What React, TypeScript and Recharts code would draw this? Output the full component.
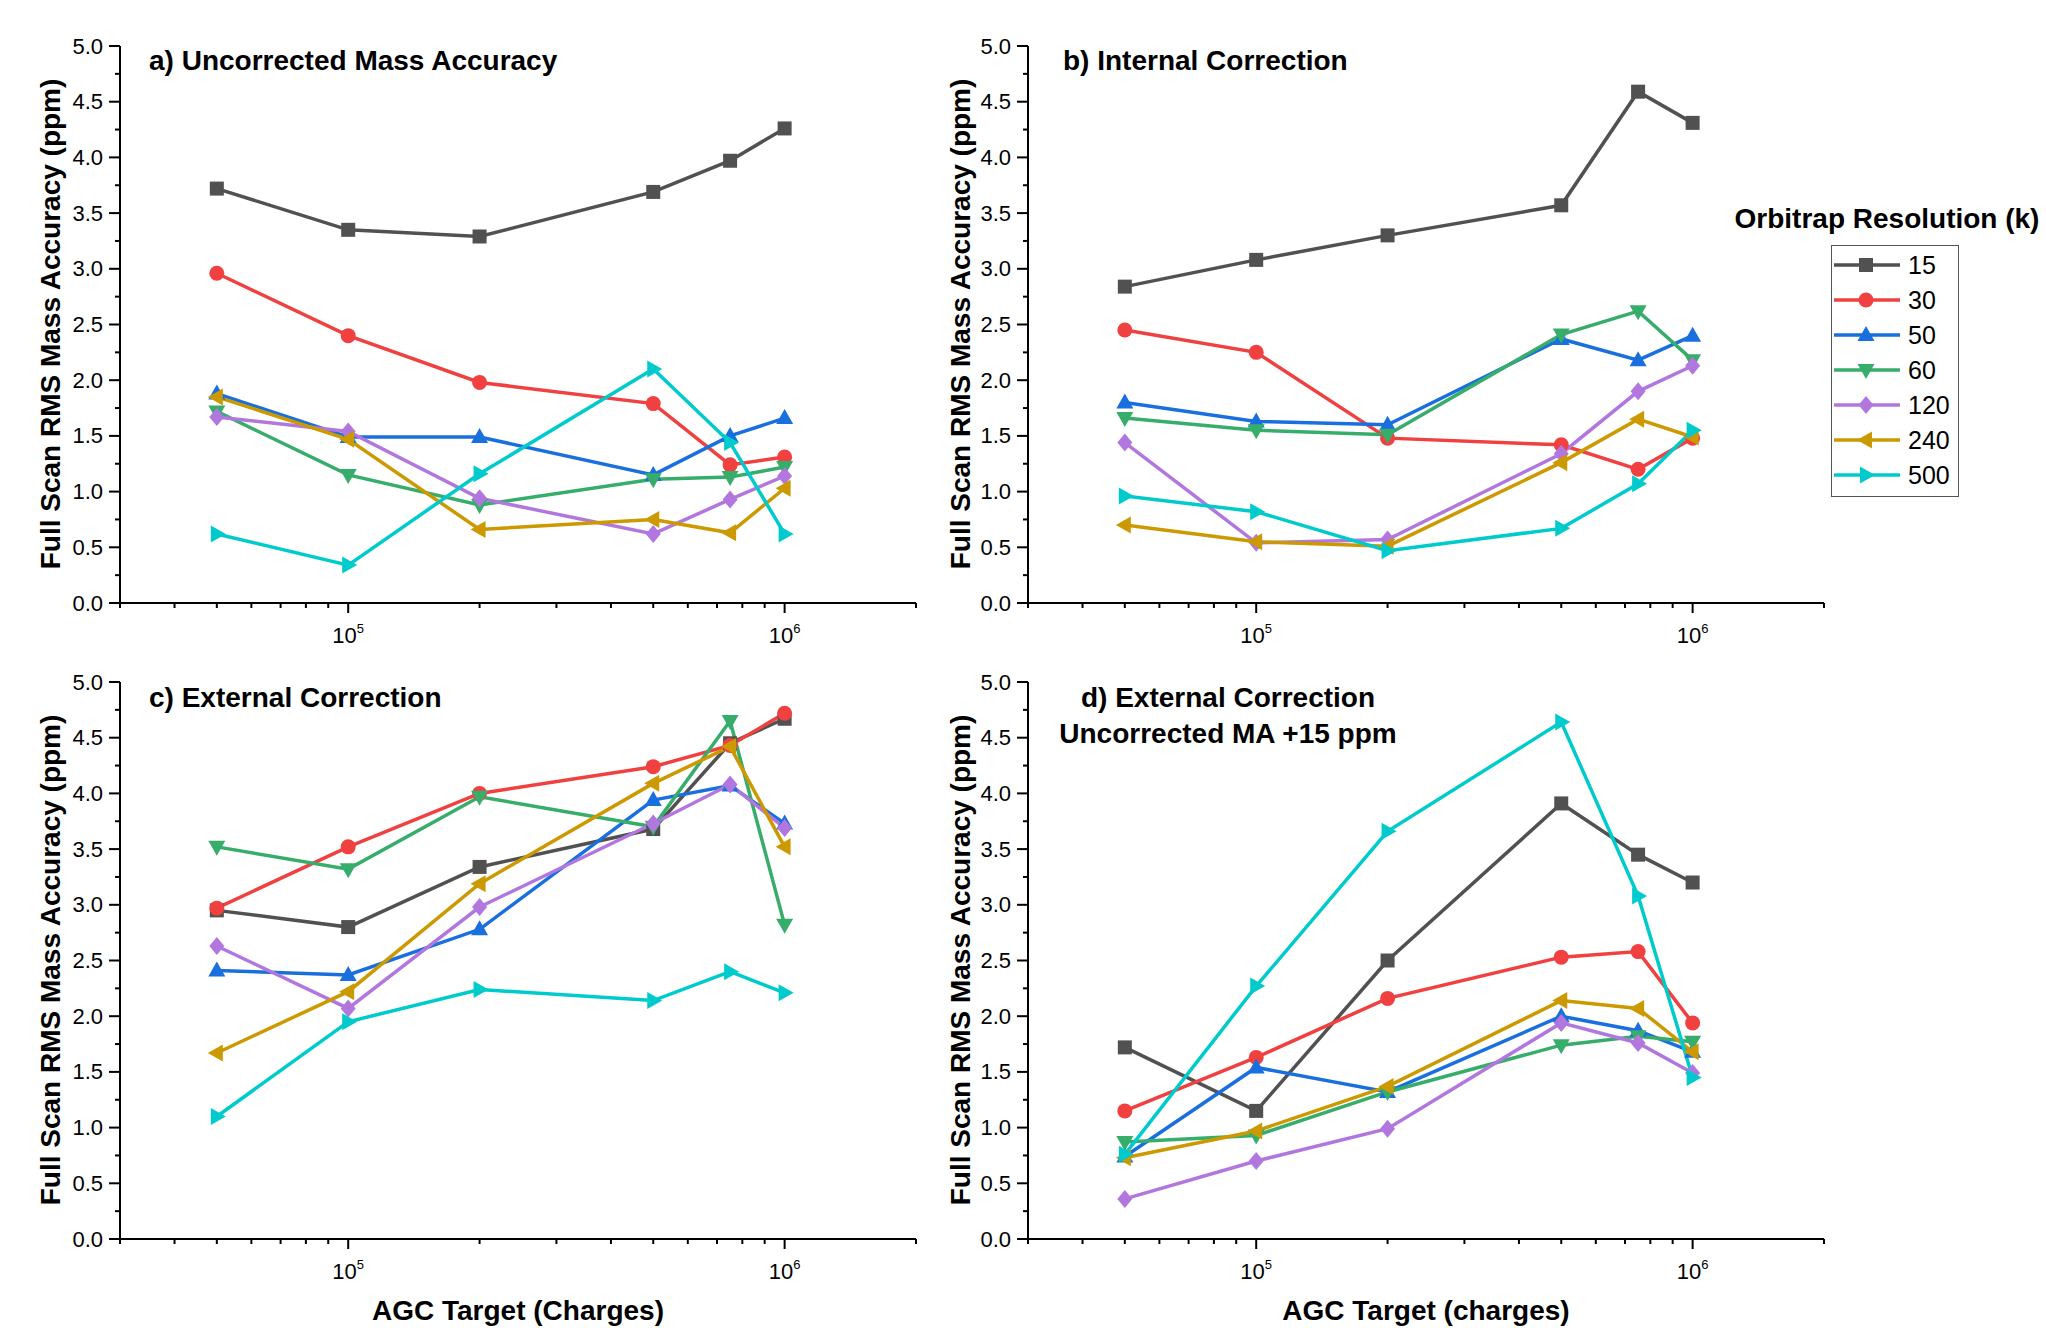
import React from "react";
import { LineChart, Line, XAxis, YAxis } from "recharts";

// AGC target (charges) on the x axis
const AGC_TARGETS = [5e4, 1e5, 2e5, 5e5, 7.5e5, 1e6];

// Orbitrap resolution (k), one line each
const RESOLUTIONS = ["15", "30", "50", "60", "120", "240", "500"];
const COLORS = ["#515151", "#F14040", "#1A6FDF", "#37AD6B", "#B177DE", "#CC9900", "#00CBCC"];
const SHAPES = ["square", "circle", "up", "down", "diamond", "left", "right"];

// rows follow RESOLUTIONS, columns follow AGC_TARGETS (ppm)
const UNCORRECTED = [
  [3.72, 3.35, 3.29, 3.69, 3.97, 4.26],
  [2.96, 2.4, 1.98, 1.79, 1.24, 1.31],
  [1.88, 1.49, 1.49, 1.15, 1.5, 1.66],
  [1.72, 1.15, 0.88, 1.11, 1.13, 1.22],
  [1.67, 1.54, 0.94, 0.62, 0.93, 1.14],
  [1.85, 1.47, 0.66, 0.75, 0.63, 1.03],
  [0.62, 0.34, 1.16, 2.1, 1.44, 0.62],
];
const INTERNAL = [
  [2.84, 3.08, 3.3, 3.57, 4.59, 4.31],
  [2.45, 2.25, 1.48, 1.42, 1.2, 1.48],
  [1.8, 1.63, 1.6, 2.37, 2.18, 2.4],
  [1.66, 1.55, 1.51, 2.41, 2.62, 2.18],
  [1.44, 0.54, 0.57, 1.34, 1.9, 2.13],
  [0.7, 0.55, 0.51, 1.26, 1.65, 1.49],
  [0.96, 0.82, 0.47, 0.67, 1.07, 1.55],
];
const EXTERNAL = [
  [2.95, 2.8, 3.34, 3.68, 4.45, 4.67],
  [2.97, 3.52, 4.0, 4.24, 4.43, 4.72],
  [2.41, 2.37, 2.78, 3.94, 4.07, 3.73],
  [3.52, 3.32, 3.97, 3.7, 4.65, 2.82],
  [2.63, 2.07, 2.98, 3.73, 4.08, 3.69],
  [1.67, 2.22, 3.19, 4.09, 4.42, 3.52],
  [1.1, 1.95, 2.24, 2.14, 2.4, 2.21],
];
const EXTERNAL_15PPM = [
  [1.72, 1.15, 2.5, 3.91, 3.45, 3.2],
  [1.15, 1.63, 2.16, 2.53, 2.58, 1.94],
  [0.74, 1.54, 1.32, 2.0, 1.87, 1.68],
  [0.87, 0.93, 1.32, 1.74, 1.82, 1.77],
  [0.36, 0.7, 0.99, 1.94, 1.76, 1.49],
  [0.73, 0.97, 1.37, 2.14, 2.07, 1.68],
  [0.76, 2.27, 3.66, 4.64, 3.08, 1.45],
];

// axis ticks
const X_MAJOR = [1e5, 1e6];
const X_MINOR = [3e4, 4e4, 5e4, 6e4, 7e4, 8e4, 9e4, 2e5, 3e5, 4e5, 5e5, 6e5, 7e5, 8e5, 9e5, 2e6];
const Y_MAJOR = [0, 0.5, 1, 1.5, 2, 2.5, 3, 3.5, 4, 4.5, 5];
const Y_MINOR = [0.25, 0.75, 1.25, 1.75, 2.25, 2.75, 3.25, 3.75, 4.25, 4.75];

const FONT = "'Liberation Sans', Arial, sans-serif";
const Y_TITLE = "Full Scan RMS Mass Accuracy (ppm)";

function Marker({ shape, cx, cy, color }) {
  if (shape === "square")
    return <rect x={cx - 7} y={cy - 7} width={14} height={14} fill={color} />;
  if (shape === "circle") return <circle cx={cx} cy={cy} r={7.5} fill={color} />;
  const pts = {
    up: [[0, -9], [8.5, 6], [-8.5, 6]],
    down: [[0, 9], [8.5, -6], [-8.5, -6]],
    diamond: [[0, -9], [7.5, 0], [0, 9], [-7.5, 0]],
    left: [[-9, 0], [6, -8.5], [6, 8.5]],
    right: [[9, 0], [-6, -8.5], [-6, 8.5]],
  }[shape];
  return <polygon points={pts.map(([x, y]) => `${cx + x},${cy + y}`).join(" ")} fill={color} />;
}

function XTick({ x, y, payload }) {
  const major = X_MAJOR.includes(payload.value);
  const exp = Math.round(Math.log10(payload.value));
  return (
    <g>
      <line x1={x} y1={y} x2={x} y2={y + (major ? 10 : 5)} stroke="#000" strokeWidth={2} />
      {major && (
        <text x={x} y={y + 40} textAnchor="middle" fontSize={22} fontFamily={FONT} fill="#000">
          10
          <tspan dy={-10} fontSize={13}>{exp}</tspan>
        </text>
      )}
    </g>
  );
}

function YTick({ x, y, payload }) {
  const major = Y_MAJOR.includes(payload.value);
  return (
    <g>
      <line x1={x} y1={y} x2={x - (major ? 11 : 5)} y2={y} stroke="#000" strokeWidth={2} />
      {major && (
        <text x={x - 17} y={y} textAnchor="end" dominantBaseline="central" fontSize={22} fontFamily={FONT} fill="#000">
          {payload.value.toFixed(1)}
        </text>
      )}
    </g>
  );
}

function Panel({ values, left, top }) {
  const data = AGC_TARGETS.map((x, i) => {
    const row = { x };
    RESOLUTIONS.forEach((r, k) => (row["r" + r] = values[k][i]));
    return row;
  });
  return (
    <div style={{ position: "absolute", left, top }}>
      <LineChart width={960} height={653} data={data} margin={{ top: 46, right: 44, bottom: 0, left: 0 }}>
        <XAxis
          dataKey="x"
          type="number"
          scale="log"
          domain={[3e4, 2e6]}
          allowDataOverflow
          ticks={[...X_MINOR, ...X_MAJOR].sort((a, b) => a - b)}
          interval={0}
          tickSize={0}
          tickMargin={0}
          tickLine={false}
          tick={XTick}
          axisLine={{ stroke: "#000", strokeWidth: 2 }}
          height={50}
        />
        <YAxis
          type="number"
          domain={[0, 5]}
          ticks={[...Y_MAJOR, ...Y_MINOR].sort((a, b) => a - b)}
          interval={0}
          tickSize={0}
          tickMargin={0}
          tickLine={false}
          tick={YTick}
          axisLine={{ stroke: "#000", strokeWidth: 2 }}
          width={120}
        />
        {RESOLUTIONS.map((r, k) => (
          <Line
            key={r}
            dataKey={"r" + r}
            stroke={COLORS[k]}
            strokeWidth={3.5}
            isAnimationActive={false}
            activeDot={false}
            dot={(p) => <Marker key={r + "-" + p.index} shape={SHAPES[k]} cx={p.cx} cy={p.cy} color={COLORS[k]} />}
          />
        ))}
      </LineChart>
    </div>
  );
}

function Overlay() {
  const bold = { fontFamily: FONT, fontWeight: 700, fontSize: 28, fill: "#000" };
  return (
    <svg width={2046} height={1328} style={{ position: "absolute", left: 0, top: 0, pointerEvents: "none" }}>
      <text x={149} y={60} dominantBaseline="central" {...bold}>a) Uncorrected Mass Accuracy</text>
      <text x={1063} y={60} dominantBaseline="central" {...bold}>b) Internal Correction</text>
      <text x={149} y={697} dominantBaseline="central" {...bold}>c) External Correction</text>
      <text x={1228} y={697} textAnchor="middle" dominantBaseline="central" {...bold}>d) External Correction</text>
      <text x={1228} y={733} textAnchor="middle" dominantBaseline="central" {...bold}>Uncorrected MA +15 ppm</text>

      {[[50, 324], [960, 324], [50, 960], [960, 960]].map(([x, y], i) => (
        <text key={i} x={x} y={y} transform={`rotate(-90 ${x} ${y})`} textAnchor="middle" dominantBaseline="central" {...bold}>
          {Y_TITLE}
        </text>
      ))}
      <text x={518} y={1310} textAnchor="middle" dominantBaseline="central" {...bold}>AGC Target (Charges)</text>
      <text x={1426} y={1310} textAnchor="middle" dominantBaseline="central" {...bold}>AGC Target (charges)</text>

      <text x={1887} y={218} textAnchor="middle" dominantBaseline="central" {...bold}>Orbitrap Resolution (k)</text>
      <rect x={1831.5} y={245.5} width={127} height={251} fill="none" stroke="#555" strokeWidth={1} />
      {RESOLUTIONS.map((r, k) => {
        const y = 265 + k * 35;
        return (
          <g key={r}>
            <line x1={1834} y1={y} x2={1900} y2={y} stroke={COLORS[k]} strokeWidth={3.5} />
            <Marker shape={SHAPES[k]} cx={1866} cy={y} color={COLORS[k]} />
            <text x={1908} y={y} dominantBaseline="central" fontFamily={FONT} fontSize={25} fill="#000">{r}</text>
          </g>
        );
      })}
    </svg>
  );
}

export default function App() {
  return (
    <div style={{ position: "absolute", left: 0, top: 0, width: 2046, height: 1328, background: "#fff", fontFamily: FONT }}>
      <Panel values={UNCORRECTED} left={0} top={0} />
      <Panel values={INTERNAL} left={908} top={0} />
      <Panel values={EXTERNAL} left={0} top={636} />
      <Panel values={EXTERNAL_15PPM} left={908} top={636} />
      <Overlay />
    </div>
  );
}
